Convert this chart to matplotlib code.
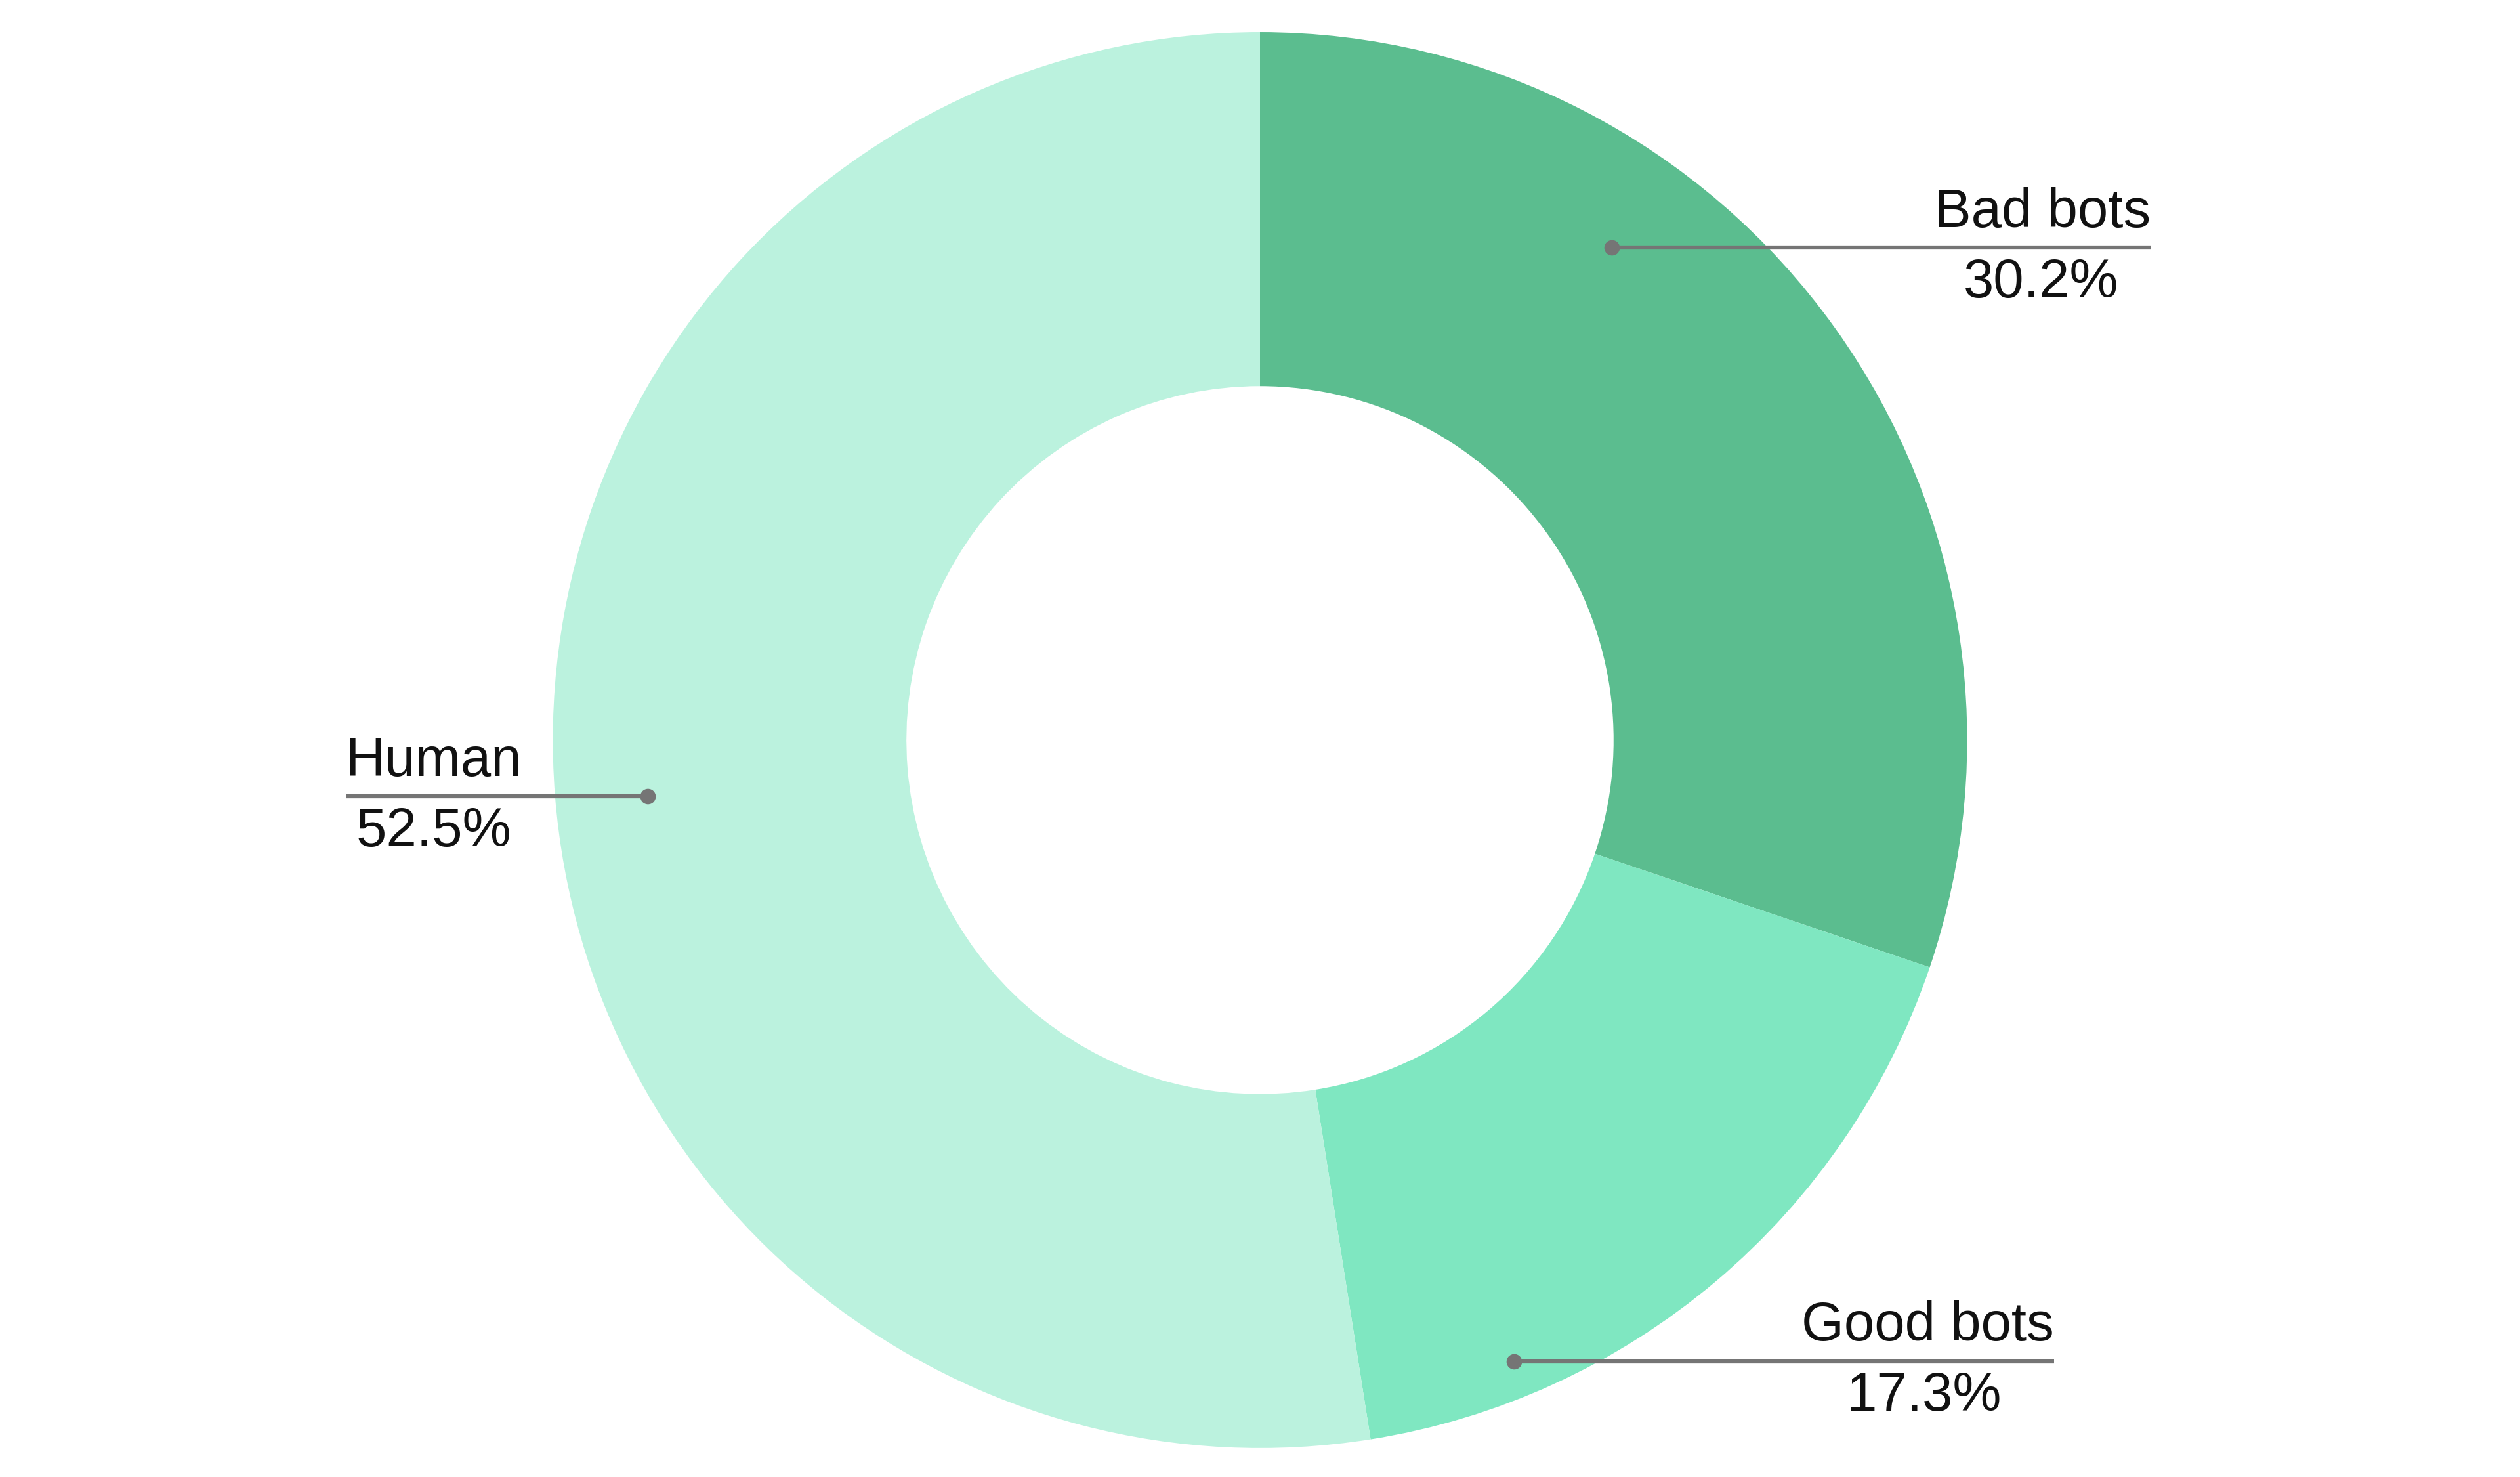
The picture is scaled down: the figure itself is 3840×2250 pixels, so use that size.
import matplotlib
matplotlib.use("Agg")
import matplotlib.pyplot as plt

labels = ["Bad bots", "Good bots", "Human"]
values = [30.2, 17.3, 52.5]
colors = ["#5BBD8F", "#7FE7C1", "#BBF2DE"]

W, H = 1568, 918
fig = plt.figure(figsize=(38.4, 22.5), dpi=100)
ax = fig.add_axes([0, 0, 1, 1])
ax.set_xlim(0, W); ax.set_ylim(0, H); ax.axis("off")

def Y(y): return H - y

ax.pie(values, colors=colors, startangle=90, counterclock=False,
       center=(784, Y(460)), radius=440, wedgeprops=dict(width=220, linewidth=0),
       frame=True)
ax.set_xlim(0, W); ax.set_ylim(0, H); ax.axis("off"); ax.set_aspect("auto")

font = dict(family="Liberation Sans", fontsize=60, color="#111111")
lc = "#757575"
# (dot_x, dot_y, line_end_x, text anchor x, ha, pct x)
ann = [
    (1003, 154, 1338, 1338, "right", 1270),
    (942, 846, 1278, 1278, "right", 1197),
    (403, 495, 215, 215, "left", 270),
]
for (dx, dy, ex, tx, ha, px), lab, v in zip(ann, labels, values):
    ax.plot([dx, ex], [Y(dy), Y(dy)], color=lc, lw=4.5, solid_capstyle="butt")
    ax.plot([dx], [Y(dy)], "o", color=lc, ms=16)
    ax.text(tx, Y(dy) + 6, lab, ha=ha, va="bottom", **font)
    ax.text(px, Y(dy) - 6, f"{v}%", ha="center", va="top", **font)

fig.savefig("out.png", dpi=100, facecolor="white")
